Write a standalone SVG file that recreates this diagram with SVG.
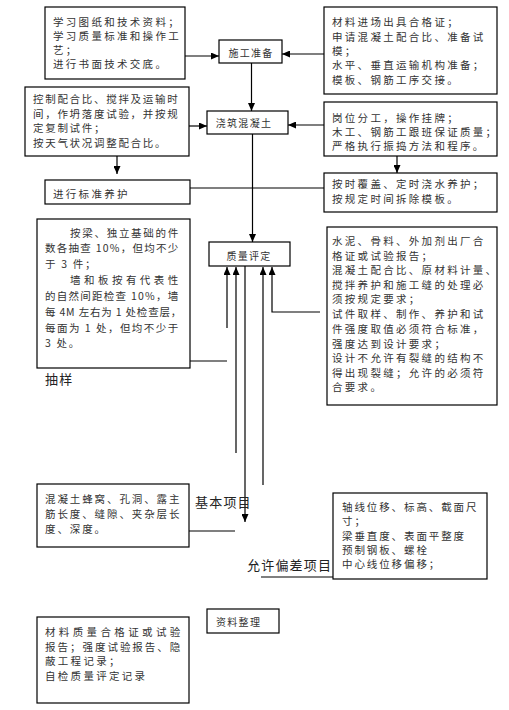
<svg xmlns="http://www.w3.org/2000/svg" width="509" height="710" viewBox="0 0 509 710">
<defs>
<marker id="ah" viewBox="0 0 8 7" refX="8" refY="3.5" markerWidth="8" markerHeight="7" markerUnits="userSpaceOnUse" orient="auto">
<path d="M0,0 L8,3.5 L0,7 Z" fill="#000"/>
</marker>
</defs>
<style>
rect{fill:#fff;stroke:#000;stroke-width:1.2}
text{font-family:"Noto Sans CJK SC","Liberation Serif",sans-serif;fill:#333;dominant-baseline:central}
.t{font-size:10.5px;letter-spacing:2.3px}
.t2{font-size:10.5px;letter-spacing:1.7px}
.t3{font-size:10.5px;letter-spacing:1.9px}
.s{font-size:10px;letter-spacing:1.3px}
.lb{font-size:13px;letter-spacing:1.2px;fill:#222}
#conn line,#conn polyline{stroke:#000;stroke-width:1.2;fill:none}
.a{marker-end:url(#ah)}
</style>
<g id="conn">
<line class="a" x1="185" y1="56" x2="219" y2="56"/>
<line class="a" x1="324" y1="54" x2="282" y2="54"/>
<line class="a" x1="251.5" y1="63" x2="251.5" y2="111"/>
<line class="a" x1="189" y1="126" x2="207" y2="126"/>
<line class="a" x1="324" y1="125" x2="288" y2="125"/>
<line class="a" x1="117" y1="156" x2="117" y2="174"/>
<line class="a" x1="397" y1="156" x2="397" y2="173"/>
<line x1="190" y1="188" x2="324" y2="188"/>
<line class="a" x1="252.5" y1="134" x2="252.5" y2="242"/>
<line class="a" x1="227" y1="328" x2="227" y2="267"/>
<line class="a" x1="236" y1="453" x2="236" y2="267"/>
<line class="a" x1="263" y1="485" x2="263" y2="267"/>
<polyline class="a" points="320,312 272,312 272,267"/>
<line x1="190" y1="361" x2="227" y2="361"/>
<line class="a" x1="245" y1="266" x2="245" y2="522"/>
<line x1="189" y1="531" x2="235" y2="531"/>
<line x1="261" y1="577" x2="333" y2="577"/>
</g>
<g id="n_prep_left">
<rect x="45" y="7" width="140" height="72"/>
<text class="t" x="53" y="21">学习图纸和技术资料；</text>
<text class="t" x="53" y="35">学习质量标准和操作工</text>
<text class="t" x="53" y="49">艺；</text>
<text class="t" x="53" y="63">进行书面技术交底。</text>
</g>
<g id="n_prep">
<rect x="219" y="40" width="63" height="23"/>
<text class="s" x="251" y="52" text-anchor="middle">施工准备</text>
</g>
<g id="n_prep_right">
<rect x="324" y="7" width="173" height="87"/>
<text class="t" x="332" y="21">材料进场出具合格证；</text>
<text class="t" x="332" y="36">申请混凝土配合比、准备试</text>
<text class="t" x="332" y="50">模；</text>
<text class="t" x="332" y="64">水平、垂直运输机构准备；</text>
<text class="t" x="332" y="79">模板、钢筋工序交接。</text>
</g>
<g id="n_pour_left">
<rect x="25" y="87" width="164" height="69"/>
<text class="t2" x="33" y="98">控制配合比、搅拌及运输时</text>
<text class="t2" x="33" y="113">间，作坍落度试验，并按规</text>
<text class="t2" x="33" y="127">定复制试件；</text>
<text class="t2" x="33" y="142">按天气状况调整配合比。</text>
</g>
<g id="n_pour">
<rect x="207" y="111" width="81" height="23"/>
<text class="s" x="244" y="122" text-anchor="middle">浇筑混凝土</text>
</g>
<g id="n_pour_right">
<rect x="324" y="102" width="173" height="54"/>
<text class="t" x="332" y="117">岗位分工，操作挂牌；</text>
<text class="t" x="332" y="131">木工、钢筋工跟班保证质量；</text>
<text class="t" x="332" y="145">严格执行振捣方法和程序。</text>
</g>
<g id="n_cure_std">
<rect x="45" y="180" width="145" height="24"/>
<text class="t" x="53" y="193">进行标准养护</text>
</g>
<g id="n_cure">
<rect x="324" y="173" width="173" height="39"/>
<text class="t" x="332" y="183">按时覆盖、定时浇水养护；</text>
<text class="t" x="332" y="198">按规定时间拆除模板。</text>
</g>
<g id="n_quality">
<rect x="209" y="242" width="81" height="24"/>
<text class="s" x="249" y="255" text-anchor="middle">质量评定</text>
</g>
<g id="n_sample">
<rect x="37" y="219" width="153" height="149"/>
<text class="t2" x="70" y="232" textLength="110" lengthAdjust="spacing">按梁、独立基础的件</text>
<text class="t2" x="45" y="247" textLength="135" lengthAdjust="spacing">数各抽查 10%，但均不少</text>
<text class="t2" x="45" y="263">于 3 件；</text>
<text class="t2" x="70" y="279" textLength="110" lengthAdjust="spacing">墙和板按有代表性</text>
<text class="t2" x="45" y="295" textLength="135" lengthAdjust="spacing">的自然间距检查 10%，墙</text>
<text class="t2" x="45" y="311" textLength="138" lengthAdjust="spacing">每 4M 左右为 1 处检查层，</text>
<text class="t2" x="45" y="327" textLength="135" lengthAdjust="spacing">每面为 1 处，但均不少于</text>
<text class="t2" x="45" y="342">3 处。</text>
</g>
<g id="l_sample">
<text class="lb" x="45" y="378">抽样</text>
</g>
<g id="n_main_control">
<rect x="327" y="227" width="170" height="178"/>
<text class="t" x="332" y="240">水泥、骨料、外加剂出厂合</text>
<text class="t" x="332" y="255">格证或试验报告；</text>
<text class="t" x="332" y="269">混凝土配合比、原材料计量、</text>
<text class="t" x="332" y="284">搅拌养护和施工缝的处理必</text>
<text class="t" x="332" y="298">须按规定要求；</text>
<text class="t" x="332" y="313">试件取样、制作、养护和试</text>
<text class="t" x="332" y="328">件强度取值必须符合标准，</text>
<text class="t" x="332" y="343">强度达到设计要求；</text>
<text class="t" x="332" y="357">设计不允许有裂缝的结构不</text>
<text class="t" x="332" y="372">得出现裂缝；允许的必须符</text>
<text class="t" x="332" y="386">合要求。</text>
</g>
<g id="n_basic">
<rect x="37" y="484" width="152" height="63"/>
<text class="t3" x="45" y="498">混凝土蜂窝、孔洞、露主</text>
<text class="t3" x="45" y="513">筋长度、缝隙、夹杂层长</text>
<text class="t3" x="45" y="528">度、深度。</text>
</g>
<g id="l_basic">
<text class="lb" x="195" y="501">基本项目</text>
</g>
<g id="n_tolerance">
<rect x="333" y="493" width="154" height="86"/>
<text class="t3" x="342" y="506">轴线位移、标高、截面尺</text>
<text class="t3" x="342" y="520">寸；</text>
<text class="t3" x="342" y="535">梁垂直度、表面平整度</text>
<text class="t3" x="342" y="549">预制钢板、螺栓</text>
<text class="t3" x="342" y="563">中心线位移偏移；</text>
</g>
<g id="l_tolerance">
<text class="lb" x="247" y="564">允许偏差项目</text>
</g>
<g id="n_docs">
<rect x="207" y="609" width="72" height="24"/>
<text class="s" x="216" y="621">资料整理</text>
</g>
<g id="n_records">
<rect x="37" y="617" width="152" height="86"/>
<text class="t2" x="45" y="631" textLength="137" lengthAdjust="spacing">材料质量合格证或试验</text>
<text class="t2" x="45" y="646" textLength="137" lengthAdjust="spacing">报告；强度试验报告、隐</text>
<text class="t" x="45" y="660">蔽工程记录；</text>
<text class="t" x="45" y="675">自检质量评定记录</text>
</g>
</svg>
